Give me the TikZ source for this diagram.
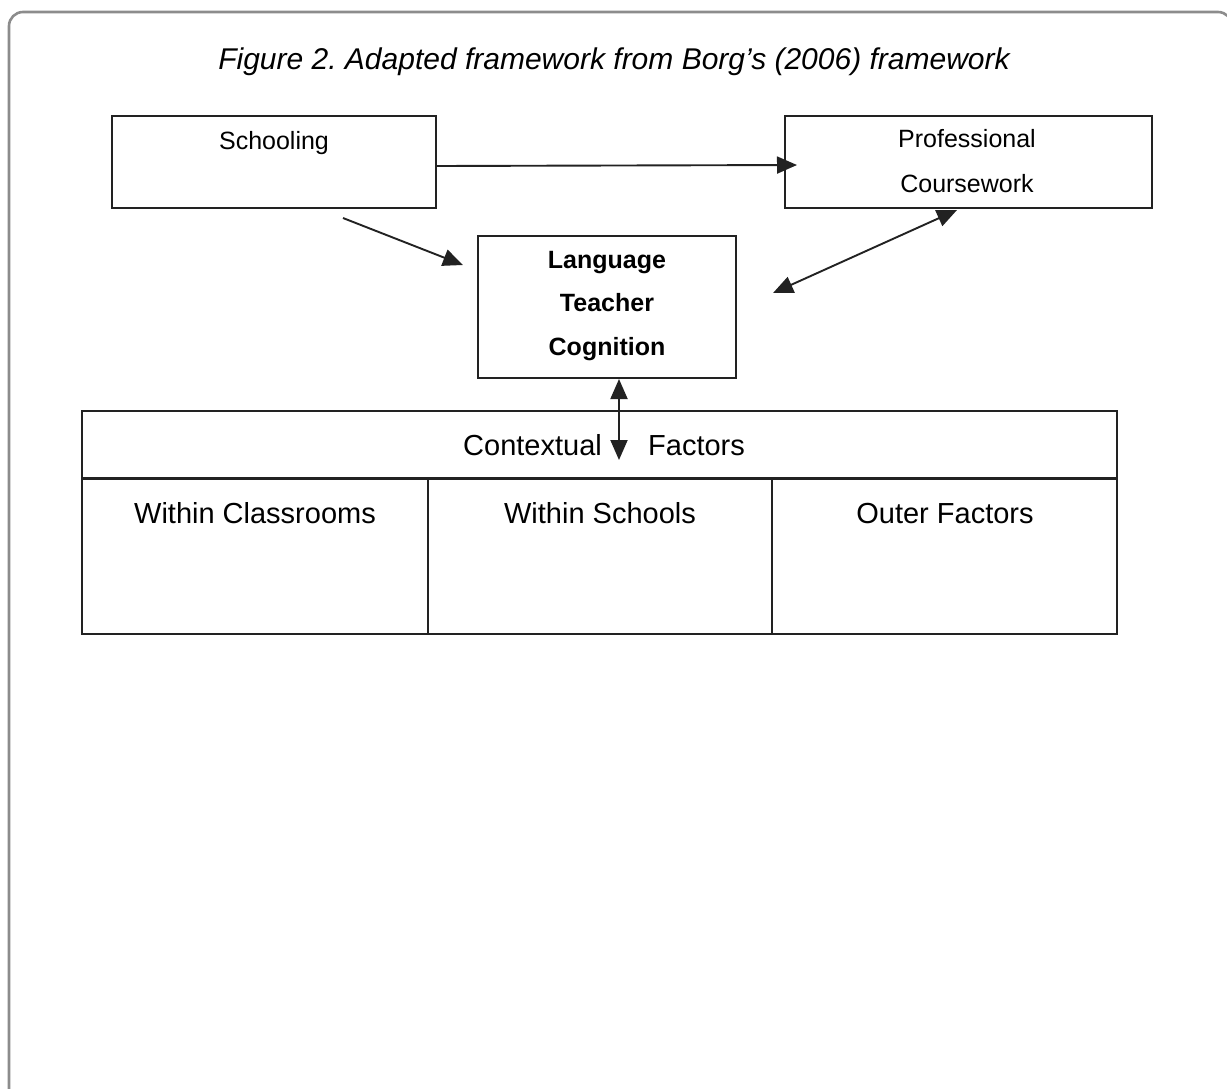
\documentclass[tikz,border=0pt]{standalone}
\usepackage{fontspec}
\setmainfont{Liberation Sans}
\usetikzlibrary{arrows.meta}
\definecolor{framegray}{HTML}{8C8C8C}
\definecolor{boxline}{HTML}{222222}
\frenchspacing
\begin{document}
\begin{tikzpicture}[x=1pt,y=-1pt,
  box/.style={draw=boxline, line width=2.3pt, inner sep=0pt, rectangle},
  txt/.style={font=\fontsize{25}{30}\selectfont, anchor=base, inner sep=0pt},
  btxt/.style={font=\fontsize{25}{30}\selectfont\bfseries, anchor=base, inner sep=0pt},
  ttxt/.style={font=\fontsize{29}{34}\selectfont, anchor=base, inner sep=0pt},
  arr/.style={draw=boxline, line width=1.9pt, -{Triangle[length=20pt,width=17pt]}},
  darr/.style={draw=boxline, line width=1.9pt, {Triangle[length=20pt,width=17pt]}-{Triangle[length=20pt,width=17pt]}}
]
\useasboundingbox (0,0) rectangle (1227,1088);
\begin{scope}
\clip (0,0) rectangle (1227,1088);
\draw[framegray, line width=2.6pt, rounded corners=14pt] (9,12) rectangle (1232,1130);
\end{scope}

% title
\node[font=\fontsize{30}{36}\selectfont\itshape, anchor=base, inner sep=0pt] (title) at (614,69) {Figure 2. Adapted framework from Borg’s (2006) framework};

% boxes
\node[box, minimum width=324pt, minimum height=92pt] (school) at (274,162) {};
\node[txt] (schooltxt) at (274,149) {Schooling};

\node[box, minimum width=367pt, minimum height=92pt] (prof) at (968.5,162) {};
\node[txt] (proftxt1) at (967,147) {Professional};
\node[txt] (proftxt2) at (967,192) {Coursework};

\node[box, minimum width=258pt, minimum height=142pt] (ltc) at (607,307) {};
\node[btxt] (ltc1) at (607,268) {Language};
\node[btxt] (ltc2) at (607,311) {Teacher};
\node[btxt] (ltc3) at (607,355) {Cognition};

% table
\node[box, minimum width=1035pt, minimum height=67.5pt] (ctx) at (599.5,444.75) {};
\node[ttxt, anchor=base west] (ctx1) at (463,455) {Contextual};
\node[ttxt, anchor=base west] (ctx2) at (648,455) {Factors};

\node[box, minimum width=346pt, minimum height=155.5pt] (cell1) at (255,556.25) {};
\node[box, minimum width=344pt, minimum height=155.5pt] (cell2) at (600,556.25) {};
\node[box, minimum width=345pt, minimum height=155.5pt] (cell3) at (944.5,556.25) {};
\node[ttxt] (c1txt) at (255,523) {Within Classrooms};
\node[ttxt] (c2txt) at (600,523) {Within Schools};
\node[ttxt] (c3txt) at (945,523) {Outer Factors};

% connector ends
\coordinate (h1) at (436,166);
\coordinate (h2) at (797,165);
\coordinate (s1) at (343,218);
\coordinate (s2) at (463,265);
\coordinate (p1) at (957,210);
\coordinate (p2) at (773,293);
\coordinate (v1) at (619,379);
\coordinate (v2) at (619,460);

\draw[arr] (h1) -- (h2);
\draw[arr] (s1) -- (s2);
\draw[darr] (p2) -- (p1);
\draw[darr] (v1) -- (v2);
\end{tikzpicture}
\end{document}
